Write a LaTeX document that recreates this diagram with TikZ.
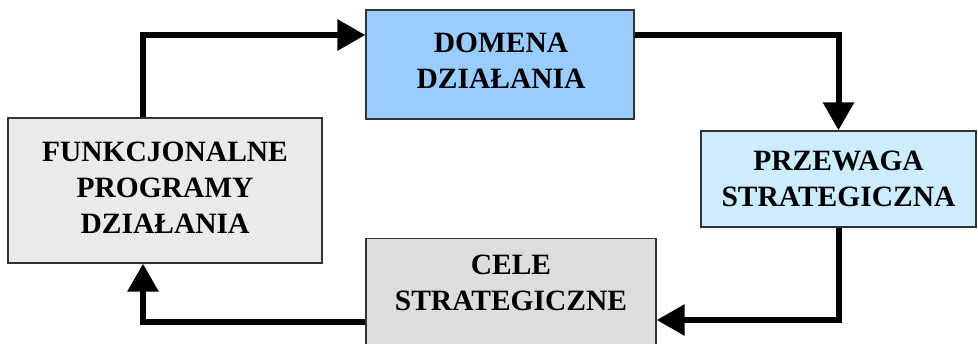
\documentclass[tikz,border=0pt]{standalone}
\usepackage{fontspec}
\setmainfont{Liberation Serif}
\usetikzlibrary{arrows.meta}
\definecolor{domfill}{HTML}{99CCFF}
\definecolor{przfill}{HTML}{CCECFF}
\definecolor{funfill}{HTML}{EAEAEA}
\definecolor{celfill}{HTML}{DDDDDD}
\definecolor{edge}{HTML}{333333}
\tikzset{
  boxnode/.style={draw=edge, line width=1.3pt, inner sep=0pt},
  txtnode/.style={inner sep=0pt, align=center, font=\fontsize{29.5}{36}\selectfont\bfseries},
  flow/.style={line width=6pt, -{Triangle[length=28pt,width=30pt]}}
}
\begin{document}
\begin{tikzpicture}[x=1pt,y=-1pt]
\useasboundingbox (0,0) rectangle (978,343);
\clip (0,0) rectangle (978,343);
\node[boxnode, fill=domfill, minimum width=268pt, minimum height=109pt] (domena) at (500,64.5) {};
\node[boxnode, fill=przfill, minimum width=275pt, minimum height=96pt] (przewaga) at (838.5,179) {};
\node[boxnode, fill=funfill, minimum width=314pt, minimum height=145pt] (func) at (165,190.5) {};
\node[boxnode, fill=celfill, minimum width=290pt, minimum height=124pt, anchor=north] (cele) at (511,238) {};
\node[txtnode] (domtext) at (501,60.5) {DOMENA\\DZIAŁANIA};
\node[txtnode] (przetext) at (838.5,179) {PRZEWAGA\\STRATEGICZNA};
\node[txtnode] (functext) at (165,187.5) {FUNKCJONALNE\\PROGRAMY\\DZIAŁANIA};
\node[txtnode] (celetext) at (511,283) {CELE\\STRATEGICZNE};
\coordinate (p1) at (143,35);
\coordinate (p2) at (835,320);
\coordinate (p3) at (143,322);
\draw[flow] (p1 |- func.north) -- (p1) -- (p1 -| domena.west);
\draw[flow] (domena.east |- p1) -| (przewaga.north);
\draw[flow] (przewaga.south) |- (cele.east |- p2);
\draw[flow] (cele.west |- p3) -| (func.south -| p1);
\end{tikzpicture}
\end{document}
